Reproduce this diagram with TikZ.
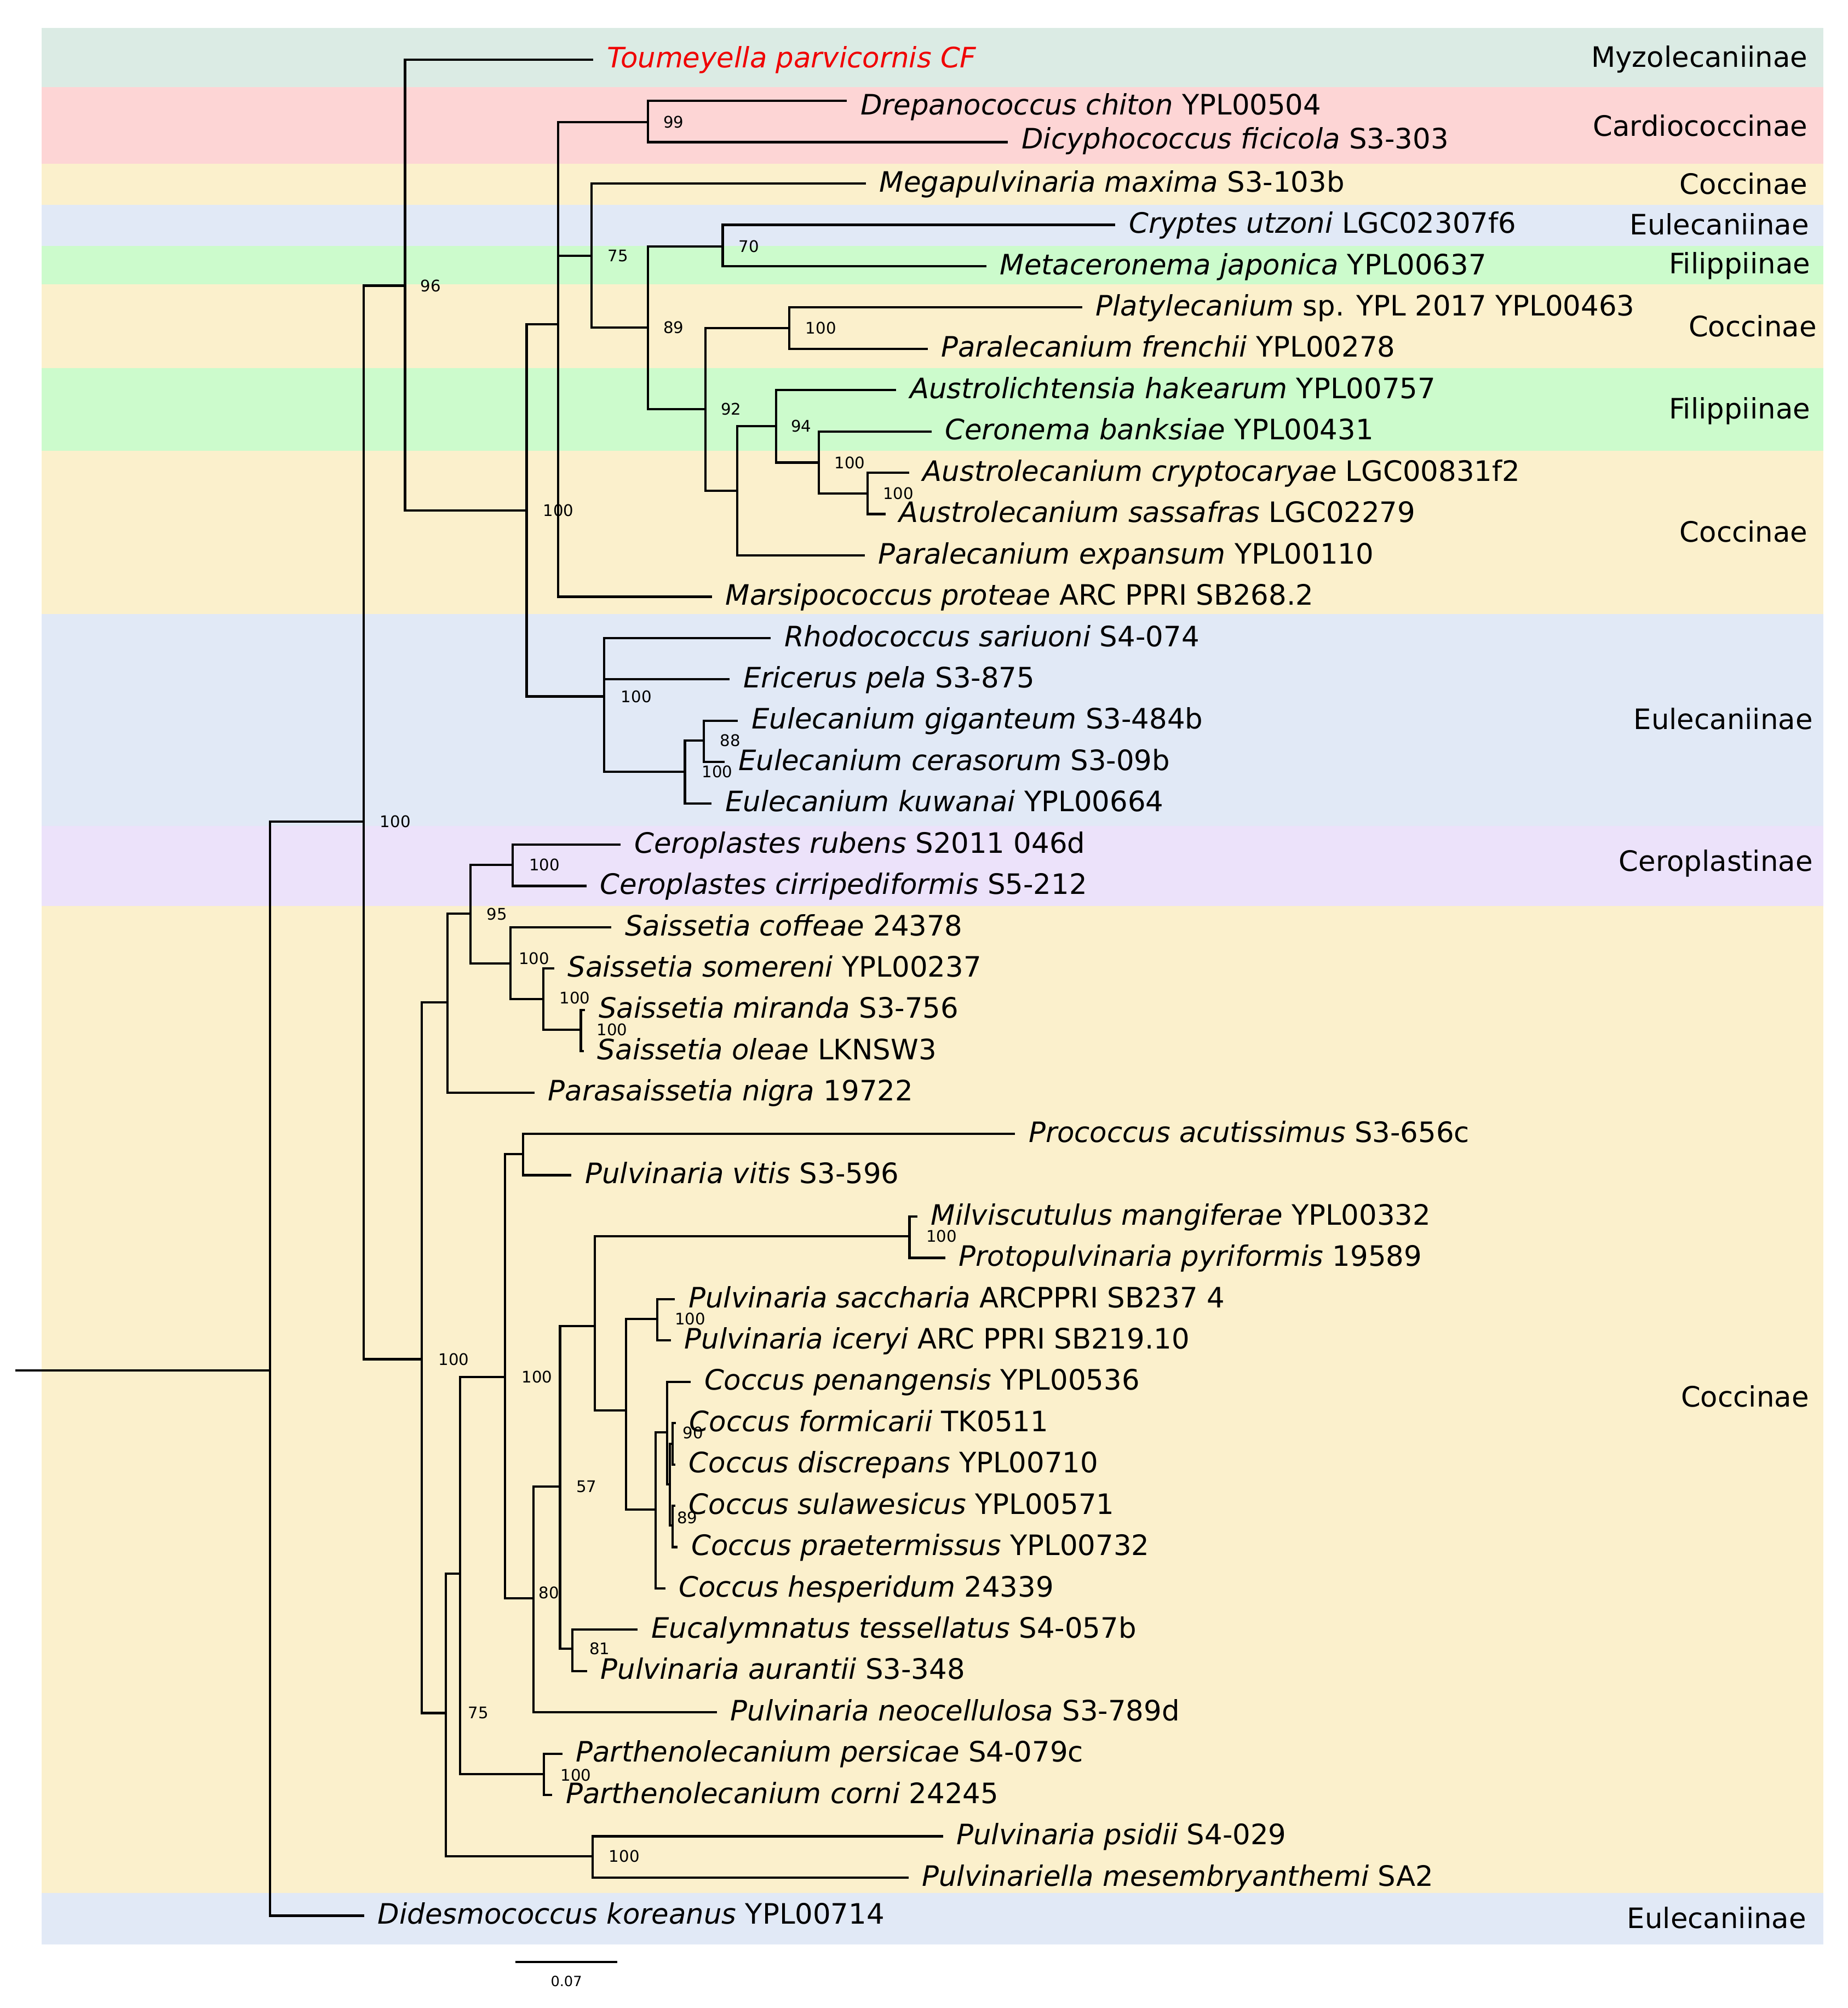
\documentclass[tikz,border=0pt]{standalone}
\usepackage{fontspec}
\setmainfont{DejaVu Sans}
\definecolor{bteal}{HTML}{DBEBE4}
\definecolor{bpink}{HTML}{FDD5D5}
\definecolor{byell}{HTML}{FBF0CC}
\definecolor{bblue}{HTML}{E1E9F6}
\definecolor{bgreen}{HTML}{CCFBCC}
\definecolor{bpurp}{HTML}{ECE2FA}
\definecolor{tred}{HTML}{F00000}
\tikzset{
  br/.style={line width=1.8pt},
  leaftext/.style={anchor=base west, inner sep=0pt, font=\fontsize{22}{26}\selectfont},
  subf/.style={anchor=base east, inner sep=0pt, font=\fontsize{22}{26}\selectfont},
  bsval/.style={anchor=west, inner sep=0pt, font=\fontsize{12.5}{14}\selectfont},
}
\newcommand\mkleaf[5]{%
  \coordinate (l#1) at ({#2},{46.6+(#3-1)*32.34});
  \node[leaftext,#4] (t#1) at ([xshift=10.5pt,yshift=-6.5pt]l#1) {#5};
}
\begin{document}
\begin{tikzpicture}[x=1pt,y=-1pt]
\useasboundingbox (0,0) rectangle (1446,1571.6);
\fill[white] (0,0) rectangle (1446,1571.6);
% bands
\fill[bteal]  (32.6,21.9)  rectangle (1427,68.2);
\fill[bpink]  (32.6,68.2)  rectangle (1427,128);
\fill[byell]  (32.6,128)   rectangle (1427,160.5);
\fill[bblue]  (32.6,160.5) rectangle (1427,192.6);
\fill[bgreen] (32.6,192.6) rectangle (1427,222.5);
\fill[byell]  (32.6,222.5) rectangle (1427,288);
\fill[bgreen] (32.6,288)   rectangle (1427,353);
\fill[byell]  (32.6,353)   rectangle (1427,480.5);
\fill[bblue]  (32.6,480.5) rectangle (1427,646.5);
\fill[bpurp]  (32.6,646.5) rectangle (1427,709);
\fill[byell]  (32.6,709)   rectangle (1427,1481.4);
\fill[bblue]  (32.6,1481.4) rectangle (1427,1522);
% subfamily labels
\node[subf] (f1)  at (1415,52.3)  {Myzolecaniinae};
\node[subf] (f2)  at (1415,106.4) {Cardiococcinae};
\node[subf] (f3)  at (1415,151.9) {Coccinae};
\node[subf] (f4)  at (1416,183.9) {Eulecaniinae};
\node[subf] (f5)  at (1417,214.1) {Filippiinae};
\node[subf] (f6)  at (1422,263.4) {Coccinae};
\node[subf] (f7)  at (1417,327.8) {Filippiinae};
\node[subf] (f8)  at (1415,424)   {Coccinae};
\node[subf] (f9)  at (1419,571)   {Eulecaniinae};
\node[subf] (f10) at (1419,682)   {Ceroplastinae};
\node[subf] (f11) at (1416,1101)  {Coccinae};
\node[subf] (f12) at (1414,1509)  {Eulecaniinae};
% leaves
\mkleaf{1}{464.3}{1}{text=tred}{\itshape Toumeyella parvicornis CF}
\mkleaf{2}{662.8}{2}{yshift=-4.5pt}{\textit{Drepanococcus chiton} YPL00504}
\mkleaf{3}{789}{3}{yshift=1.5pt}{\textit{Dicyphococcus ficicola} S3-303}
\mkleaf{4}{677.7}{4}{}{\textit{Megapulvinaria maxima} S3-103b}
\mkleaf{5}{873}{5}{}{\textit{Cryptes utzoni} LGC02307f6}
\mkleaf{6}{772}{6}{}{\textit{Metaceronema japonica} YPL00637}
\mkleaf{7}{847}{7}{}{\textit{Platylecanium} sp. YPL 2017 YPL00463}
\mkleaf{8}{726}{8}{}{\textit{Paralecanium frenchii} YPL00278}
\mkleaf{9}{701.4}{9}{}{\textit{Austrolichtensia hakearum} YPL00757}
\mkleaf{10}{729}{10}{}{\textit{Ceronema banksiae} YPL00431}
\mkleaf{11}{711.5}{11}{}{\textit{Austrolecanium cryptocaryae} LGC00831f2}
\mkleaf{12}{693.2}{12}{}{\textit{Austrolecanium sassafras} LGC02279}
\mkleaf{13}{676.9}{13}{}{\textit{Paralecanium expansum} YPL00110}
\mkleaf{14}{557.2}{14}{}{\textit{Marsipococcus proteae} ARC PPRI SB268.2}
\mkleaf{15}{603.3}{15}{}{\textit{Rhodococcus sariuoni} S4-074}
\mkleaf{16}{571.1}{16}{}{\textit{Ericerus pela} S3-875}
\mkleaf{17}{577.5}{17}{}{\textit{Eulecanium giganteum} S3-484b}
\mkleaf{18}{567.2}{18}{}{\textit{Eulecanium cerasorum} S3-09b}
\mkleaf{19}{556.9}{19}{}{\textit{Eulecanium kuwanai} YPL00664}
\mkleaf{20}{485.9}{20}{}{\textit{Ceroplastes rubens} S2011 046d}
\mkleaf{21}{459}{21}{}{\textit{Ceroplastes cirripediformis} S5-212}
\mkleaf{22}{478.6}{22}{}{\textit{Saissetia coffeae} 24378}
\mkleaf{23}{433.7}{23}{}{\textit{Saissetia somereni} YPL00237}
\mkleaf{24}{458}{24}{}{\textit{Saissetia miranda} S3-756}
\mkleaf{25}{457}{25}{}{\textit{Saissetia oleae} LKNSW3}
\mkleaf{26}{418.4}{26}{}{\textit{Parasaissetia nigra} 19722}
\mkleaf{27}{794.5}{27}{}{\textit{Prococcus acutissimus} S3-656c}
\mkleaf{28}{447.3}{28}{}{\textit{Pulvinaria vitis} S3-596}
\mkleaf{29}{718}{29}{}{\textit{Milviscutulus mangiferae} YPL00332}
\mkleaf{30}{739.8}{30}{}{\textit{Protopulvinaria pyriformis} 19589}
\mkleaf{31}{528.3}{31}{}{\textit{Pulvinaria saccharia} ARCPPRI SB237 4}
\mkleaf{32}{525}{32}{}{\textit{Pulvinaria iceryi} ARC PPRI SB219.10}
\mkleaf{33}{540.6}{33}{}{\textit{Coccus penangensis} YPL00536}
\mkleaf{34}{529}{34}{}{\textit{Coccus formicarii} TK0511}
\mkleaf{35}{528.5}{35}{}{\textit{Coccus discrepans} YPL00710}
\mkleaf{36}{528.5}{36}{}{\textit{Coccus sulawesicus} YPL00571}
\mkleaf{37}{530.5}{37}{}{\textit{Coccus praetermissus} YPL00732}
\mkleaf{38}{520.7}{38}{}{\textit{Coccus hesperidum} 24339}
\mkleaf{39}{499.1}{39}{}{\textit{Eucalymnatus tessellatus} S4-057b}
\mkleaf{40}{459.4}{40}{}{\textit{Pulvinaria aurantii} S3-348}
\mkleaf{41}{561}{41}{}{\textit{Pulvinaria neocellulosa} S3-789d}
\mkleaf{42}{440.1}{42}{}{\textit{Parthenolecanium persicae} S4-079c}
\mkleaf{43}{432.3}{43}{}{\textit{Parthenolecanium corni} 24245}
\mkleaf{44}{738}{44}{}{\textit{Pulvinaria psidii} S4-029}
\mkleaf{45}{711}{45}{}{\textit{Pulvinariella mesembryanthemi} SA2}
\mkleaf{46}{285}{45.92}{}{\textit{Didesmococcus koreanus} YPL00714}
% internal nodes
\coordinate (rs)   at (12.1,1072.6);
\coordinate (root) at (211.3,1072.6);
\coordinate (n1)  at (284.7,642.9);
\coordinate (n2)  at (317,223.6);
\coordinate (n3)  at (412.2,399.5);
\coordinate (n4)  at (436.8,253.9);
\coordinate (n5)  at (507,95.6);
\coordinate (n6)  at (463,200.1);
\coordinate (n7)  at (507,256.3);
\coordinate (n8)  at (565.7,192.8);
\coordinate (n9)  at (552.1,320.3);
\coordinate (n10) at (617.7,256.8);
\coordinate (n11) at (576.9,384.1);
\coordinate (n12) at (607.3,333.6);
\coordinate (n13) at (640.8,362);
\coordinate (n14) at (679.1,386.1);
\coordinate (n15) at (472.7,545.1);
\coordinate (n16) at (536.1,603.9);
\coordinate (n17) at (550.8,579.5);
\coordinate (n18) at (330.1,1063.8);
\coordinate (n19) at (350.4,784.6);
\coordinate (n20) at (368.3,715);
\coordinate (n21) at (401.1,676.8);
\coordinate (n22) at (399.4,754);
\coordinate (n23) at (425.1,782);
\coordinate (n24) at (454.6,806);
\coordinate (n25) at (348.8,1340.7);
\coordinate (n26) at (360.2,1231.5);
\coordinate (n27) at (395.4,1077.6);
\coordinate (n28) at (409.4,903.1);
\coordinate (n29) at (417.4,1251);
\coordinate (n30) at (438.3,1163.4);
\coordinate (n31) at (465.4,1037.7);
\coordinate (n32) at (711.8,967.6);
\coordinate (n33) at (490.1,1104);
\coordinate (n34) at (514.4,1032.3);
\coordinate (n35) at (513.2,1181.3);
\coordinate (n36) at (522,1120.9);
\coordinate (n37) at (524.3,1161.8);
\coordinate (n38) at (526.3,1130);
\coordinate (n39) at (526.3,1194);
\coordinate (n40) at (448,1290.5);
\coordinate (n41) at (425.7,1388.4);
\coordinate (n42) at (463.9,1452.9);
% branches
\draw[br] (rs) -- (root);
\draw[br] (root) |- (n1);  \draw[br] (root) |- (l46);
\draw[br] (n1) |- (n2);    \draw[br] (n1) |- (n18);
\draw[br] (n2) |- (l1);    \draw[br] (n2) |- (n3);
\draw[br] (n3) |- (n4);    \draw[br] (n3) |- (n15);
\draw[br] (n4) |- (n5);    \draw[br] (n4) |- (n6);   \draw[br] (n4) |- (l14);
\draw[br] (n5) |- (l2);    \draw[br] (n5) |- (l3);
\draw[br] (n6) |- (l4);    \draw[br] (n6) |- (n7);
\draw[br] (n7) |- (n8);    \draw[br] (n7) |- (n9);
\draw[br] (n8) |- (l5);    \draw[br] (n8) |- (l6);
\draw[br] (n9) |- (n10);   \draw[br] (n9) |- (n11);
\draw[br] (n10) |- (l7);   \draw[br] (n10) |- (l8);
\draw[br] (n11) |- (n12);  \draw[br] (n11) |- (l13);
\draw[br] (n12) |- (l9);   \draw[br] (n12) |- (n13);
\draw[br] (n13) |- (l10);  \draw[br] (n13) |- (n14);
\draw[br] (n14) |- (l11);  \draw[br] (n14) |- (l12);
\draw[br] (n15) |- (l15);  \draw[br] (n15) |- (l16);  \draw[br] (n15) |- (n16);
\draw[br] (n16) |- (n17);  \draw[br] (n16) |- (l19);
\draw[br] (n17) |- (l17);  \draw[br] (n17) |- (l18);
\draw[br] (n18) |- (n19);  \draw[br] (n18) |- (n25);
\draw[br] (n19) |- (n20);  \draw[br] (n19) |- (l26);
\draw[br] (n20) |- (n21);  \draw[br] (n20) |- (n22);
\draw[br] (n21) |- (l20);  \draw[br] (n21) |- (l21);
\draw[br] (n22) |- (l22);  \draw[br] (n22) |- (n23);
\draw[br] (n23) |- (l23);  \draw[br] (n23) |- (n24);
\draw[br] (n24) |- (l24);  \draw[br] (n24) |- (l25);
\draw[br] (n25) |- (n26);  \draw[br] (n25) |- (n42);
\draw[br] (n26) |- (n27);  \draw[br] (n26) |- (n41);
\draw[br] (n27) |- (n28);  \draw[br] (n27) |- (n29);
\draw[br] (n28) |- (l27);  \draw[br] (n28) |- (l28);
\draw[br] (n29) |- (n30);  \draw[br] (n29) |- (l41);
\draw[br] (n30) |- (n31);  \draw[br] (n30) |- (n40);
\draw[br] (n31) |- (n32);  \draw[br] (n31) |- (n33);
\draw[br] (n32) |- (l29);  \draw[br] (n32) |- (l30);
\draw[br] (n33) |- (n34);  \draw[br] (n33) |- (n35);
\draw[br] (n34) |- (l31);  \draw[br] (n34) |- (l32);
\draw[br] (n35) |- (n36);  \draw[br] (n35) |- (l38);
\draw[br] (n36) |- (l33);  \draw[br] (n36) |- (n37);
\draw[br] (n37) |- (n38);  \draw[br] (n37) |- (n39);
\draw[br] (n38) |- (l34);  \draw[br] (n38) |- (l35);
\draw[br] (n39) |- (l36);  \draw[br] (n39) |- (l37);
\draw[br] (n40) |- (l39);  \draw[br] (n40) |- (l40);
\draw[br] (n41) |- (l42);  \draw[br] (n41) |- (l43);
\draw[br] (n42) |- (l44);  \draw[br] (n42) |- (l45);
% support values
\node[bsval] (s1)  at (297.3,642.9)  {100};
\node[bsval] (s2)  at (329,223.6)    {96};
\node[bsval] (s3)  at (424.9,399.5)  {100};
\node[bsval] (s5)  at (519,95.6)     {99};
\node[bsval] (s6)  at (475.6,200.1)  {75};
\node[bsval] (s7)  at (519,256.3)    {89};
\node[bsval] (s8)  at (578,192.8)    {70};
\node[bsval] (s9)  at (564,320.3)    {92};
\node[bsval] (s10) at (630.4,256.8)  {100};
\node[bsval] (s12) at (619,333.6)    {94};
\node[bsval] (s13) at (653,362)      {100};
\node[bsval] (s14) at (690.9,386.1)  {100};
\node[bsval] (s15) at (485.9,545.1)  {100};
\node[bsval] (s16) at (549.3,603.9)  {100};
\node[bsval] (s17) at (563.3,579.5)  {88};
\node[bsval] (s18) at (343,1063.8)   {100};
\node[bsval] (s20) at (380.8,715.3)  {95};
\node[bsval] (s21) at (414,676.8)    {100};
\node[bsval] (s22) at (405.8,750)    {100};
\node[bsval] (s23) at (437.7,781.2)  {100};
\node[bsval] (s24) at (467,805.8)    {100};
\node[bsval] (s25) at (366.1,1340.7) {75};
\node[bsval] (s27) at (408.3,1077.6) {100};
\node[bsval] (s29) at (421.5,1246.6) {80};
\node[bsval] (s30) at (450.9,1163.4) {57};
\node[bsval] (s32) at (724.9,967.6)  {100};
\node[bsval] (s34) at (528,1032.3)   {100};
\node[bsval] (s38) at (534.3,1121.3) {90};
\node[bsval] (s39) at (529.8,1187.8) {89};
\node[bsval] (s40) at (461.2,1290.5) {81};
\node[bsval] (s41) at (438.7,1389.5) {100};
\node[bsval] (s42) at (476.5,1452.9) {100};
% scale bar
\coordinate (sb1) at (403.3,1535.5);
\coordinate (sb2) at (483.3,1535.5);
\draw[line width=2pt] (sb1) -- (sb2);
\node[inner sep=0pt, font=\fontsize{11}{13}\selectfont] (sbl) at (443.3,1550.5) {0.07};
\end{tikzpicture}
\end{document}
